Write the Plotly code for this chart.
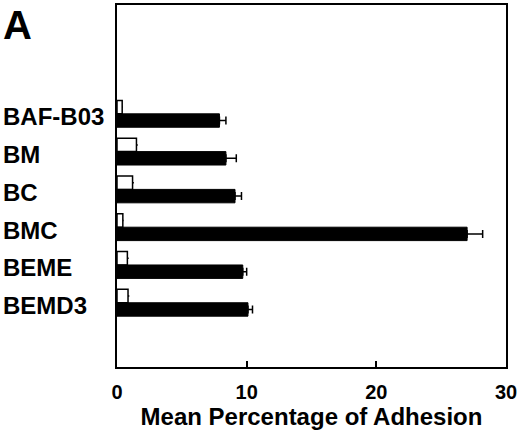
import plotly.graph_objects as go

cells = ["BAF-B03", "BM", "BC", "BMC", "BEME", "BEMD3"]
control = [0.4, 1.5, 1.2, 0.45, 0.8, 0.85]
control_err = [0.05, 0.1, 0.1, 0.05, 0.1, 0.1]
adhesion = [7.9, 8.4, 9.1, 27.0, 9.7, 10.1]
adhesion_err = [0.5, 0.8, 0.5, 1.2, 0.3, 0.35]
x_ticks = [0, 10, 20, 30]

font = "Liberation Sans, Arial, Helvetica, sans-serif"

fig = go.Figure()
fig.add_trace(go.Bar(
    y=cells, x=control, orientation="h",
    marker=dict(color="white", line=dict(color="black", width=1.5)),
    error_x=dict(type="data", array=control_err, symmetric=False,
                 arrayminus=[0] * len(cells), color="black", thickness=1.5, width=0),
))
fig.add_trace(go.Bar(
    y=cells, x=adhesion, orientation="h",
    marker=dict(color="black", line=dict(color="black", width=1)),
    error_x=dict(type="data", array=adhesion_err, symmetric=False,
                 arrayminus=[0] * len(cells), color="black", thickness=1.5, width=4),
))

fig.update_layout(
    width=520, height=442,
    margin=dict(l=117, r=13, t=3, b=75),
    plot_bgcolor="white", paper_bgcolor="white",
    barmode="group", bargap=0.29, bargroupgap=0.0,
    showlegend=False,
    font=dict(family=font, color="black"),
)
fig.update_xaxes(
    range=[0, 30], tickvals=x_ticks, ticks="inside", ticklen=6, tickwidth=1.5,
    tickcolor="black", showgrid=False, zeroline=False,
    showline=True, linecolor="black", linewidth=2, mirror=True,
    tickfont=dict(size=20, weight=700), ticklabelstandoff=6,
    title=dict(text="Mean Percentage of Adhesion", font=dict(size=24, weight=700), standoff=3),
)
fig.update_yaxes(
    type="category", range=[6.70, -2.88], showgrid=False, zeroline=False,
    showline=True, linecolor="black", linewidth=2, mirror=True, ticks="",
    showticklabels=False,
)

# left-aligned category labels, as in the original
for c in cells:
    fig.add_annotation(
        text=c, xref="paper", yref="y", x=-116 / 390, y=c, yshift=-3,
        xanchor="left", yanchor="middle", showarrow=False,
        font=dict(size=24, weight=700, family=font),
    )

fig.add_annotation(
    text="A", xref="paper", yref="paper", x=-116 / 390, y=1.0, yshift=4,
    xanchor="left", yanchor="top", showarrow=False,
    font=dict(size=40, weight=700, family=font),
)

fig.write_html("out.html", config={"displayModeBar": False},
               post_script="document.body.style.margin='0';")
